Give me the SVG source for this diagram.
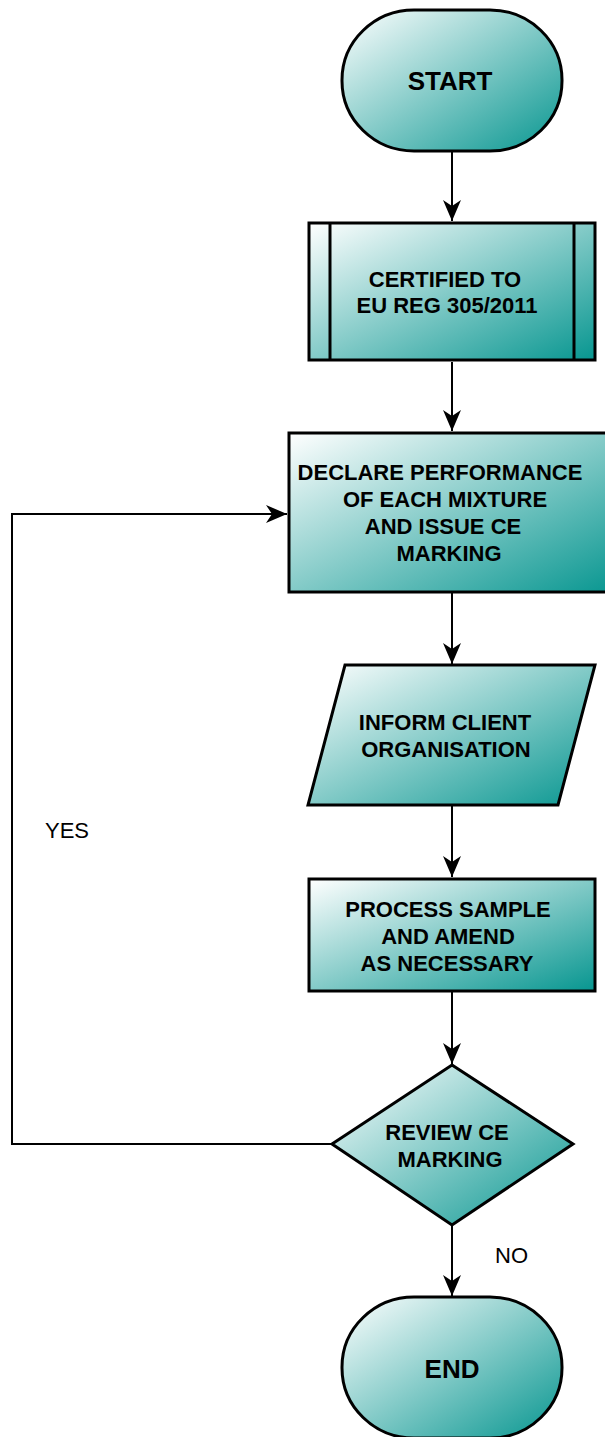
<svg xmlns="http://www.w3.org/2000/svg" width="605" height="1437" viewBox="0 0 605 1437">
  <style>
    .shape { fill: url(#g); stroke: #000; stroke-width: 3; }
    .edge { fill: none; stroke: #000; stroke-width: 2; }
    .lbl { font-family: "Liberation Sans", Arial, sans-serif; font-weight: bold; font-size: 22px; fill: #000; text-anchor: middle; }
    .big { font-size: 26px; }
    .ann { font-family: "Liberation Sans", Arial, sans-serif; font-size: 22px; fill: #000; }
  </style>
  <defs>
    <linearGradient id="g" x1="0" y1="0" x2="1" y2="1">
      <stop offset="0" stop-color="#ffffff"/>
      <stop offset="1" stop-color="#079690"/>
    </linearGradient>
    <marker id="arr" markerUnits="userSpaceOnUse" markerWidth="22" markerHeight="20" refX="21" refY="9" orient="auto">
      <path d="M0,0 L21,9 L0,18 L6,9 z" fill="#000"/>
    </marker>
  </defs>
  <rect width="605" height="1437" fill="#ffffff"/>

  <g id="connectors">
    <line class="edge" x1="452" y1="152" x2="452" y2="221" marker-end="url(#arr)"/>
    <line class="edge" x1="452" y1="362" x2="452" y2="431" marker-end="url(#arr)"/>
    <line class="edge" x1="452" y1="593" x2="452" y2="664" marker-end="url(#arr)"/>
    <line class="edge" x1="452" y1="806" x2="452" y2="877" marker-end="url(#arr)"/>
    <line class="edge" x1="452" y1="992" x2="452" y2="1064" marker-end="url(#arr)"/>
    <line class="edge" x1="452" y1="1226" x2="452" y2="1296" marker-end="url(#arr)"/>
    <polyline class="edge" points="332,1144 12,1144 12,514 287,514" marker-end="url(#arr)"/>
    <text class="ann" x="45" y="838">YES</text>
    <text class="ann" x="495" y="1263">NO</text>
  </g>

  <g id="start">
    <rect class="shape" x="342" y="10" width="220" height="141" rx="72" ry="70"/>
    <text class="lbl big" x="450" y="90">START</text>
  </g>

  <g id="certified">
    <rect class="shape" x="309" y="223" width="286" height="137"/>
    <line x1="330" y1="223" x2="330" y2="360" stroke="#000" stroke-width="3"/>
    <line x1="574" y1="223" x2="574" y2="360" stroke="#000" stroke-width="3"/>
    <text class="lbl" x="445" y="287">CERTIFIED TO</text>
    <text class="lbl" x="447" y="313">EU REG 305/2011</text>
  </g>

  <g id="declare">
    <rect class="shape" x="289" y="433" width="330" height="159"/>
    <text class="lbl" x="440" y="480">DECLARE PERFORMANCE</text>
    <text class="lbl" x="445" y="507">OF EACH MIXTURE</text>
    <text class="lbl" x="443" y="534">AND ISSUE CE</text>
    <text class="lbl" x="449" y="561">MARKING</text>
  </g>

  <g id="inform">
    <polygon class="shape" points="345,665 595,665 558,805 308,805"/>
    <text class="lbl" x="445" y="730">INFORM CLIENT</text>
    <text class="lbl" x="446" y="757">ORGANISATION</text>
  </g>

  <g id="process">
    <rect class="shape" x="309" y="879" width="286" height="112"/>
    <text class="lbl" x="448" y="917">PROCESS SAMPLE</text>
    <text class="lbl" x="448" y="944">AND AMEND</text>
    <text class="lbl" x="447" y="971">AS NECESSARY</text>
  </g>

  <g id="review">
    <polygon class="shape" points="452,1065 573,1144 452,1225 332,1144"/>
    <text class="lbl" x="447" y="1140">REVIEW CE</text>
    <text class="lbl" x="450" y="1167">MARKING</text>
  </g>

  <g id="end">
    <rect class="shape" x="342" y="1297" width="220" height="141" rx="72" ry="70"/>
    <text class="lbl big" x="452" y="1378">END</text>
  </g>
</svg>
